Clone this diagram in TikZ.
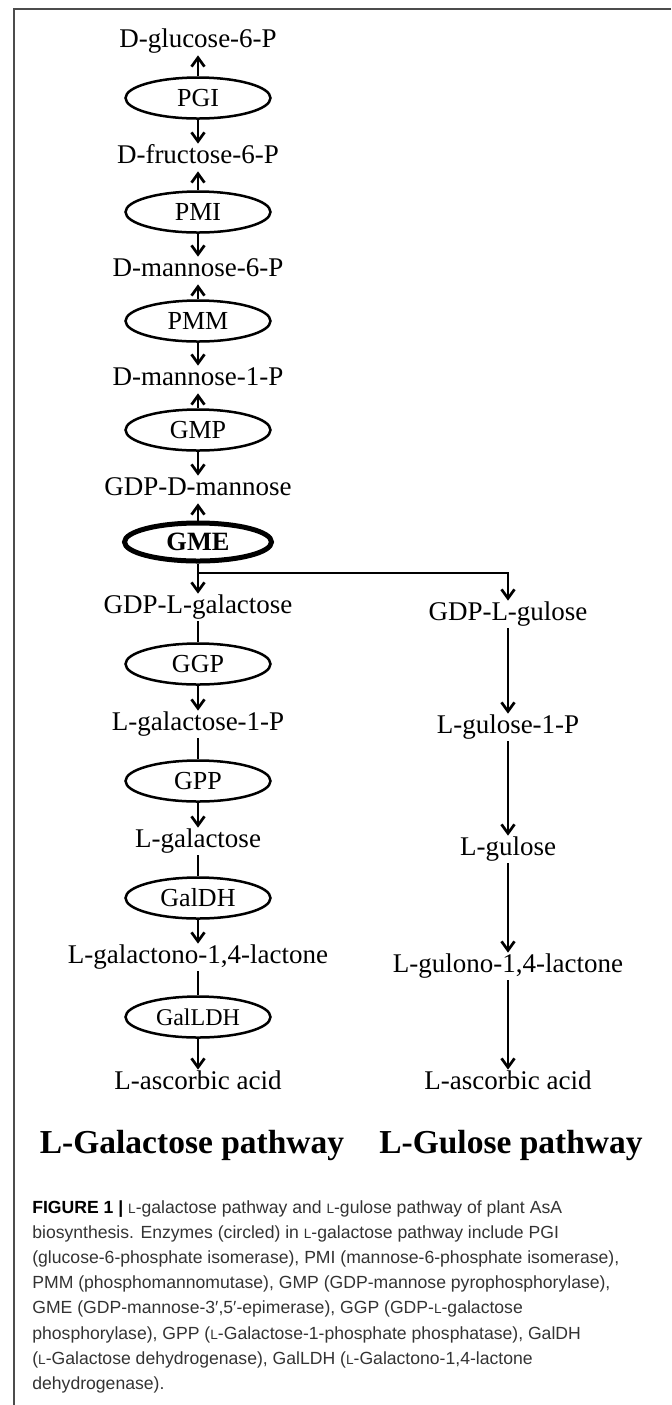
\documentclass[tikz,border=0pt]{standalone}
\usepackage{fontspec}
\setmainfont{Liberation Serif}
\newfontfamily\capfont{Liberation Sans}
\usepackage{tikz}
\usetikzlibrary{arrows.meta,shapes.geometric}
\newcommand{\lsc}{{\fontsize{6.8}{6.8}\selectfont L}}
\definecolor{framegray}{gray}{0.3}
\definecolor{capgray}{gray}{0.2}

\begin{document}
\begin{tikzpicture}[->,>={Straight Barb[length=4.5pt,width=6.5pt]},line width=1.35pt,
   x=0.5pt, y=-0.5pt,
   met/.style={inner sep=1pt, text height=0.8em, text depth=0.25em, font=\fontsize{13.5}{13.5}\selectfont},
   enz/.style={draw, ellipse, line width=1.25pt, inner sep=0pt, minimum width=72.5pt,
     minimum height=20.5pt, font=\fontsize{13}{13}\selectfont},
   pathtitle/.style={anchor=base, inner sep=0pt, font=\fontsize{16.75}{16.75}\selectfont\bfseries}]
  \useasboundingbox (0,0) rectangle (671,1405);
  \draw[-, framegray, line width=0.75pt] (671,9) -- (14,9) -- (14,1405);
  % L-galactose pathway
  \node[met, anchor=base] (g6p) at (198, 47) {D-glucose-6-P};
  \node[enz] (pgi) at (198, 98) {PGI};
  \node[met, anchor=base] (f6p) at (198, 163) {D-fructose-6-P};
  \node[enz] (pmi) at (198, 212) {PMI};
  \node[met, anchor=base] (m6p) at (198, 276) {D-mannose-6-P};
  \node[enz] (pmm) at (198, 321) {PMM};
  \node[met, anchor=base] (m1p) at (198, 385) {D-mannose-1-P};
  \node[enz] (gmp) at (198, 430) {GMP};
  \node[met, anchor=base] (gdpman) at (198, 495) {GDP-D-mannose};
  \node[enz, line width=2.5pt, minimum width=73.5pt, minimum height=19pt,
    font=\fontsize{13.2}{13.2}\selectfont\bfseries] (gme) at (198, 542) {GME};
  \node[met, anchor=base] (gdpgal) at (198, 613) {GDP-L-galactose};
  \node[enz] (ggp) at (198, 664) {GGP};
  \node[met, anchor=base] (gal1p) at (198, 730) {L-galactose-1-P};
  \node[enz] (gpp) at (198, 781) {GPP};
  \node[met, anchor=base] (gal) at (198, 847) {L-galactose};
  \node[enz] (galdh) at (198, 898) {GalDH};
  \node[met, anchor=base] (galL) at (198, 963) {L-galactono-1,4-lactone};
  \node[enz, font=\fontsize{12}{12}\selectfont] (galldh) at (198, 1017) {GalLDH};
  \node[met, anchor=base] (asaL) at (198, 1089) {L-ascorbic acid};
  % L-gulose pathway
  \coordinate (fork) at (198, 573);
  \node[met, anchor=base] (gdpgul) at (508, 620) {GDP-L-gulose};
  \node[met, anchor=base] (gul1p) at (508, 733) {L-gulose-1-P};
  \node[met, anchor=base] (gul) at (508, 855) {L-gulose};
  \node[met, anchor=base] (gulL) at (508, 972) {L-gulono-1,4-lactone};
  \node[met, anchor=base] (asaR) at (508, 1089) {L-ascorbic acid};
  \node[pathtitle] (titleL) at (192, 1153) {L-Galactose pathway};
  \node[pathtitle] (titleR) at (511, 1153) {L-Gulose pathway};

  \path (pgi) edge (g6p) edge (f6p);
  \path (pmi) edge (f6p) edge (m6p);
  \path (pmm) edge (m6p) edge (m1p);
  \path (gmp) edge (m1p) edge (gdpman);
  \path (gme) edge (gdpman) edge (gdpgal);
  \path (gdpgal) edge[-] (ggp);
  \path (ggp) edge (gal1p);
  \path (gal1p) edge[-] (gpp);
  \path (gpp) edge (gal);
  \path (gal) edge[-] (galdh);
  \path (galdh) edge (galL);
  \path (galL) edge[-] (galldh);
  \path (galldh) edge (asaL);
  \draw (fork) -| (gdpgul);
  \path (gdpgul) edge (gul1p);
  \path (gul1p) edge (gul);
  \path (gul) edge (gulL);
  \path (gulL) edge (asaR);

  \node[anchor=north west, align=left, inner sep=0pt, text=capgray,
    font=\capfont\fontsize{8.8}{12.6}\selectfont] (caption) at (31, 1199)
    {{\color{black}\textbf{FIGURE 1 |}} \lsc-galactose pathway and \lsc-gulose pathway of plant AsA\\
     biosynthesis. Enzymes (circled) in \lsc-galactose pathway include PGI\\
     (glucose-6-phosphate isomerase), PMI (mannose-6-phosphate isomerase),\\
     PMM (phosphomannomutase), GMP (GDP-mannose pyrophosphorylase),\\
     GME (GDP-mannose-3′,5′-epimerase), GGP (GDP-\lsc-galactose\\
     phosphorylase), GPP (\lsc-Galactose-1-phosphate phosphatase), GalDH\\
     (\lsc-Galactose dehydrogenase), GalLDH (\lsc-Galactono-1,4-lactone\\
     dehydrogenase).};
\end{tikzpicture}
\end{document}
